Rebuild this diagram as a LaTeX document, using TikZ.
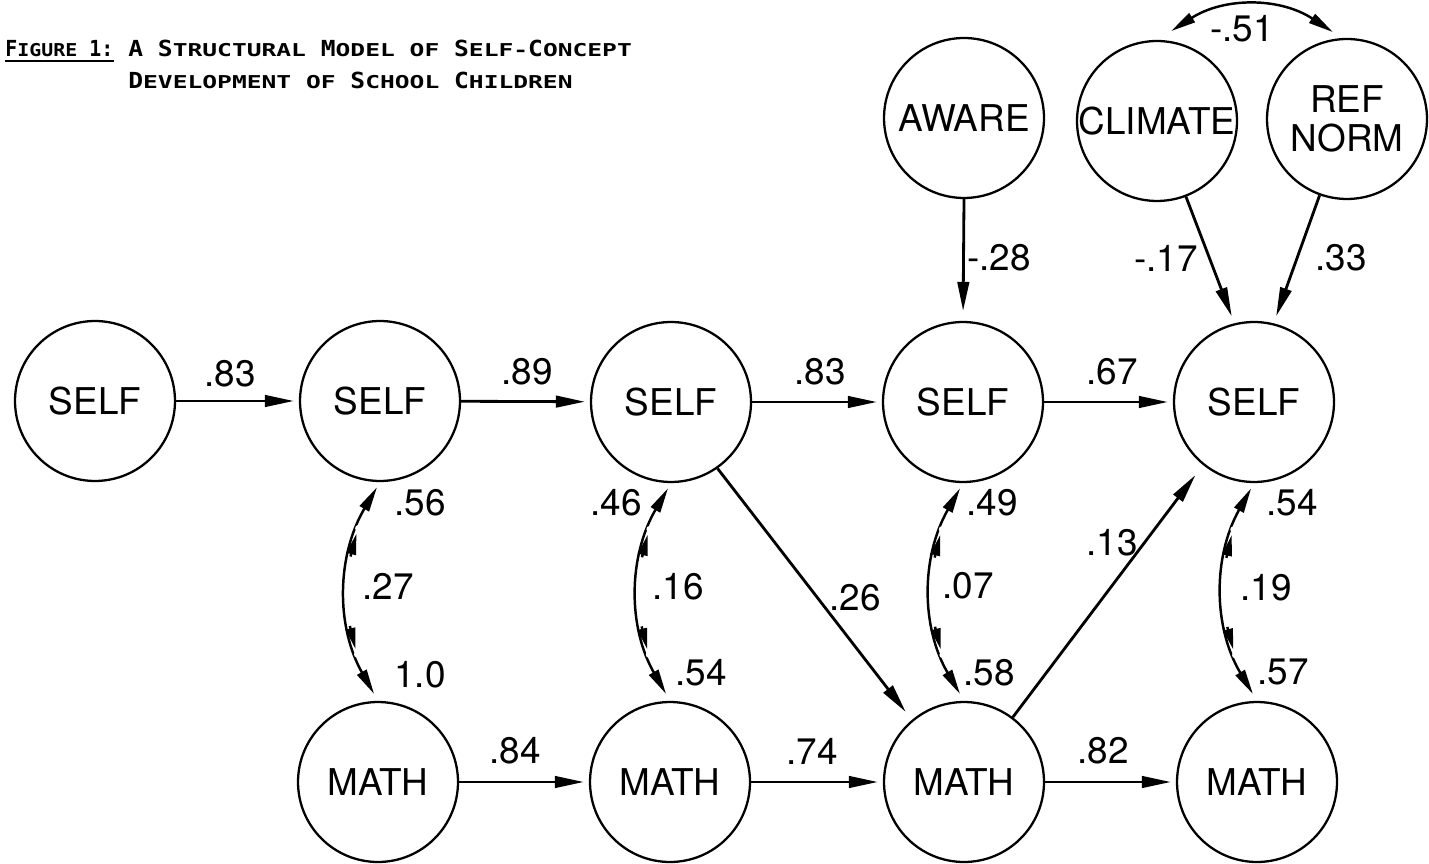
\documentclass[tikz,border=0pt]{standalone}
\usepackage{fontspec}
\setmainfont{TeX Gyre Heros}
\newfontfamily\typew{DejaVu Sans Mono}
\usepackage{graphicx}
\usetikzlibrary{arrows.meta,calc}
\newcommand\BC[1]{\scalebox{1}[0.9]{#1}}
\newcommand\SC[1]{\scalebox{1}[0.72]{#1}}
\tikzset{
 var/.style={circle, draw, line width=1.3pt, minimum size=3.2cm, inner sep=0pt, align=center, font=\fontsize{21}{22}\selectfont},
 lab/.style={inner sep=0pt, font=\fontsize{21}{22}\selectfont},
 title/.style={inner sep=0pt, font=\typew\bfseries\fontsize{14}{16}\selectfont},
 arr/.style={line width=1.6pt, -{Triangle[length=0.58cm,width=0.23cm]}},
 cov/.style={line width=1.4pt, {Triangle[length=0.5cm,width=0.21cm]}-{Triangle[length=0.5cm,width=0.21cm]}},
 midtip/.style={line width=1.4pt, -{Triangle[length=0.42cm,width=0.19cm]}},
}
% covariance arc between #1 (upper) and #2 (lower)
\newcommand\covarc[2]{%
  \draw[cov, shorten <=0.12cm, shorten >=0.16cm] (#1.south) to[bend right=30]
     coordinate[pos=0.21] (#1ga) coordinate[pos=0.235] (#1ta) coordinate[pos=0.34] (#1ba)
     coordinate[pos=0.66] (#1bb) coordinate[pos=0.765] (#1tb) coordinate[pos=0.79] (#1gb) (#2.north);
  \fill[white] (#1ga) circle (1.8pt);
  \fill[white] (#1gb) circle (1.8pt);
  \draw[midtip] (#1ba) -- (#1ta);
  \draw[midtip] (#1bb) -- (#1tb);
}
\begin{document}
\begin{tikzpicture}[x=0.02cm,y=-0.02cm]
\useasboundingbox (0,0) rectangle (1429,864);
% title
\node[title, anchor=base west] (fig) at (5,57) {\scalebox{0.81}[1]{\BC{F}\SC{IGURE} \BC{1:}}};
\draw[line width=1.2pt] ($(fig.base west)+(0,4)$) -- ($(fig.base east)+(0,4)$);
\node[title, anchor=base west] (t1) at (128,57) {\BC{A} \BC{S}\SC{TRUCTURAL} \BC{M}\SC{ODEL} \SC{OF} \BC{S}\SC{ELF-}\BC{C}\SC{ONCEPT}};
\node[title, anchor=base west] (t2) at (128,89) {\BC{D}\SC{EVELOPMENT} \SC{OF} \BC{S}\SC{CHOOL} \BC{C}\SC{HILDREN}};
% variables
\node[var] (self1) at (95,401) {SELF};
\node[var] (self2) at (380,401) {SELF};
\node[var] (self3) at (671,402) {SELF};
\node[var] (self4) at (963,402) {SELF};
\node[var] (self5) at (1254,402) {SELF};
\node[var] (math2) at (378,782) {MATH};
\node[var] (math3) at (670,782) {MATH};
\node[var] (math4) at (964,782) {MATH};
\node[var] (math5) at (1257,782) {MATH};
\node[var] (aware) at (964,118) {AWARE};
\node[var] (climate) at (1157,121) {CLIMATE};
\node[var] (refnorm) at (1347,119) {REF\\NORM};
% paths
\draw[arr, shorten >=0.1cm] (self1) -- (self2);
\draw[arr, shorten >=0.1cm] (self2) -- (self3);
\draw[arr, shorten >=0.1cm] (self3) -- (self4);
\draw[arr, shorten >=0.1cm] (self4) -- (self5);
\draw[arr, shorten >=0.1cm] (math2) -- (math3);
\draw[arr, shorten >=0.1cm] (math3) -- (math4);
\draw[arr, shorten >=0.1cm] (math4) -- (math5);
\draw[arr, shorten >=0.2cm] (aware.south) -- (self4.north);
\draw[arr, shorten >=0.15cm] (climate) -- (self5.104);
\draw[arr, shorten >=0.15cm] (refnorm) -- (self5.76);
\draw[arr, shorten >=0.2cm] (self3.-55) -- (math4.130);
\draw[arr, shorten >=0.25cm] (math4.53) -- (self5.231);
% covariances
\covarc{self2}{math2}
\covarc{self3}{math3}
\covarc{self4}{math4}
\covarc{self5}{math5}
\coordinate (m1) at ($(climate.80)+(0,-10)$);
\coordinate (m2) at ($(refnorm.100)+(0,-7)$);
\draw[cov] (m1) to[bend left=33] (m2);
% labels
\node[lab] (l1) at (230,374) {.83};
\node[lab] (l2) at (527,372) {.89};
\node[lab] (l3) at (820,372) {.83};
\node[lab] (l4) at (1112,372) {.67};
\node[lab] (l5) at (515,751) {.84};
\node[lab] (l6) at (812,751) {.74};
\node[lab] (l7) at (1103,751) {.82};
\node[lab] (l8) at (999,258) {-.28};
\node[lab] (l9) at (1166,258) {-.17};
\node[lab] (l10) at (1341,258) {.33};
\node[lab] (l11) at (1242,29) {-.51};
\node[lab] (l12) at (420,503) {.56};
\node[lab] (l13) at (388,586) {.27};
\node[lab] (l14) at (420,675) {1.0};
\node[lab] (l15) at (616,503) {.46};
\node[lab] (l16) at (678,587) {.16};
\node[lab] (l17) at (701,673) {.54};
\node[lab] (l18) at (992,503) {.49};
\node[lab] (l19) at (968,586) {.07};
\node[lab] (l20) at (989,673) {.58};
\node[lab] (l21) at (1292,503) {.54};
\node[lab] (l22) at (1266,588) {.19};
\node[lab] (l23) at (1283,672) {.57};
\node[lab] (l24) at (855,598) {.26};
\node[lab] (l25) at (1112,543) {.13};
\end{tikzpicture}
\end{document}
